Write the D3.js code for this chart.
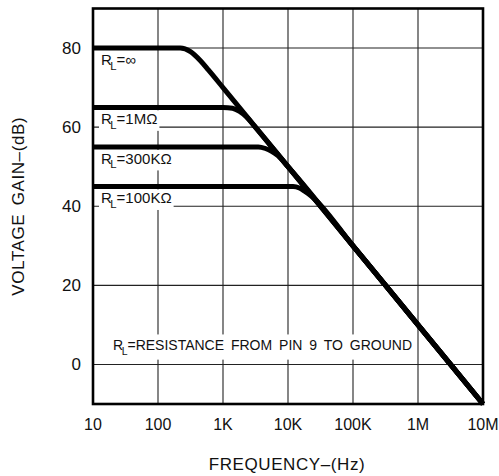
<!DOCTYPE html>
<html>
<head>
<meta charset="utf-8">
<script src="https://cdn.jsdelivr.net/npm/d3@7"></script>
<style>
  html, body { margin: 0; padding: 0; background: #fff; }
  svg { display: block; }
  text { font-family: "Liberation Sans", Arial, sans-serif; fill: #111; }
</style>
</head>
<body>
<svg id="chart" width="499" height="476"></svg>
<script>
// ---- data ----
const freqTicks = [10, 100, 1e3, 1e4, 1e5, 1e6, 1e7];
const freqTickLabels = ["10", "100", "1K", "10K", "100K", "1M", "10M"];
const gainTicks = [0, 20, 40, 60, 80];
const gainTickLabels = ["0", "20", "40", "60", "80"];

const curveLabels = ["∞", "1MΩ", "300KΩ", "100KΩ"];
const curveFlatGain = [80, 65, 55, 45];

// R_L = infinity
const freqInf = [10, 100, 220, 316, 450, 600, 1e3, 1e4, 1e5, 1e6, 1e7];
const gainInf = [80, 80, 80, 79.1, 76.8, 74.4, 70, 50, 30, 10, -10];
// R_L = 1 MOhm
const freq1M = [10, 1000, 1400, 1800, 2300, 3000, 1e4, 1e5, 1e6, 1e7];
const gain1M = [65, 65, 64.8, 64.0, 62.6, 60.4, 50, 30, 10, -10];
// R_L = 300 kOhm
const freq300K = [10, 3500, 4500, 5600, 7000, 1e4, 1e5, 1e6, 1e7];
const gain300K = [55, 55, 54.6, 53.9, 52.8, 50, 30, 10, -10];
// R_L = 100 kOhm
const freq100K = [10, 12000, 15000, 18000, 22000, 1e5, 1e6, 1e7];
const gain100K = [45, 45, 44.6, 43.8, 42.8, 30, 10, -10];

const curveFreqs = [freqInf, freq1M, freq300K, freq100K];
const curveGains = [gainInf, gain1M, gain300K, gain100K];

const xTitle = "FREQUENCY–(Hz)";
const yTitle = "VOLTAGE GAIN–(dB)";
const noteMain = "=RESISTANCE FROM PIN 9 TO GROUND";

// ---- layout ----
const svg = d3.select("#chart");
const mLeft = 93, mRight = 483, mTop = 8.5, mBottom = 404;

const x = d3.scaleLog().domain([10, 1e7]).range([mLeft, mRight]);
const y = d3.scaleLinear().domain([-10, 90]).range([mBottom, mTop]);

// grid
const grid = svg.append("g").attr("stroke", "#222").attr("stroke-width", 1.1);
grid.selectAll("line.v").data(freqTicks).join("line").attr("class", "v")
  .attr("x1", d => x(d)).attr("x2", d => x(d))
  .attr("y1", y(90)).attr("y2", y(-10));
grid.selectAll("line.h").data(gainTicks).join("line").attr("class", "h")
  .attr("x1", x(10)).attr("x2", x(1e7))
  .attr("y1", d => y(d)).attr("y2", d => y(d));

// RL label helper
function rlLabel(g, xx, yy, size, rest) {
  const t = g.append("text").attr("x", xx).attr("y", yy).style("font-size", size + "px");
  t.append("tspan").text("R");
  t.append("tspan").attr("dx", -1.5).attr("dy", size * 0.3).style("font-size", (size * 0.75) + "px").text("L");
  t.append("tspan").attr("dy", -size * 0.3).text(rest);
  return t;
}
function backBox(g, t, padX, padY) {
  const b = t.node().getBBox();
  g.insert("rect", "text").attr("x", b.x - padX).attr("y", b.y - padY)
    .attr("width", b.width + 2 * padX).attr("height", b.height + 2 * padY)
    .attr("fill", "#fff");
}

// curve labels
const labG = svg.append("g");
curveLabels.forEach((s, i) => {
  const g = labG.append("g");
  const t = rlLabel(g, x(10) + 8, y(curveFlatGain[i]) + 17, 15, "=" + s);
  backBox(g, t, 2, 0);
});

// note
const noteG = svg.append("g");
const nt = rlLabel(noteG, x(10) + 20, y(0) - 14, 14, noteMain).style("word-spacing", "3px");
backBox(noteG, nt, 4, 3);

// curves
const line = d3.line().x(d => x(d[0])).y(d => y(d[1])).curve(d3.curveMonotoneX);
const curveG = svg.append("g");
curveFreqs.forEach((fs, i) => {
  const pts = fs.map((f, j) => [f, curveGains[i][j]]);
  curveG.append("path").attr("d", line(pts))
    .attr("fill", "none").attr("stroke", "#000").attr("stroke-width", 5)
    .attr("stroke-linejoin", "round");
});

// frame
svg.append("rect").attr("x", x(10)).attr("y", y(90))
  .attr("width", x(1e7) - x(10)).attr("height", y(-10) - y(90))
  .attr("fill", "none").attr("stroke", "#000").attr("stroke-width", 2.6);

// axes labels
svg.append("g").selectAll("text").data(freqTicks).join("text")
  .attr("x", d => x(d)).attr("y", 430)
  .attr("text-anchor", "middle").style("font-size", "16px")
  .text((d, i) => freqTickLabels[i]);
svg.append("g").selectAll("text").data(gainTicks).join("text")
  .attr("x", 81).attr("y", d => y(d) + 6)
  .attr("text-anchor", "end").style("font-size", "17px")
  .text((d, i) => gainTickLabels[i]);

svg.append("text").attr("x", 287).attr("y", 470).attr("text-anchor", "middle")
  .style("font-size", "17px").style("letter-spacing", "0.6px").text(xTitle);
svg.append("text").attr("transform", "translate(24," + ((mTop + mBottom) / 2) + ") rotate(-90)")
  .attr("text-anchor", "middle").style("font-size", "17px").style("letter-spacing", "0.6px")
  .style("word-spacing", "3px").text(yTitle);
</script>
</body>
</html>
